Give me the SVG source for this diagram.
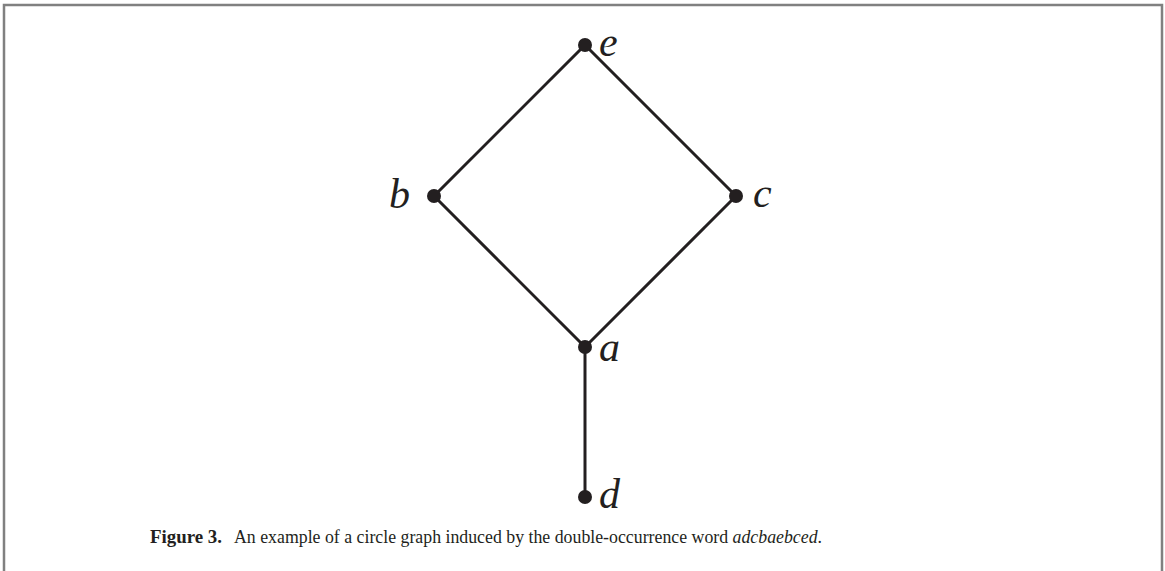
<svg xmlns="http://www.w3.org/2000/svg" width="1165" height="571" viewBox="0 0 1165 571">
<style>
.edge{stroke:#231f20;stroke-width:3;fill:none}
.dot{fill:#231f20}
.lbl{font-family:"Liberation Serif",serif;font-style:italic;font-size:42px;fill:#231f20}
.cap{font-family:"Liberation Serif",serif;font-size:18px;fill:#231f20}
</style>
<rect width="1165" height="571" fill="#fff"/>
<path d="M4,571 V5 H1162 V571" fill="none" stroke="#808080" stroke-width="2.5"/>
<g id="edges">
<line class="edge" x1="585" y1="45" x2="434" y2="196"/>
<line class="edge" x1="585" y1="45" x2="736" y2="196"/>
<line class="edge" x1="434" y1="196" x2="585" y2="347"/>
<line class="edge" x1="736" y1="196" x2="585" y2="347"/>
<line class="edge" x1="585" y1="347" x2="585" y2="497"/>
</g>
<g id="node-e"><circle class="dot" cx="585" cy="45" r="7"/><text class="lbl" x="599" y="56">e</text></g>
<g id="node-b"><circle class="dot" cx="434" cy="196" r="7"/><text class="lbl" x="389" y="208">b</text></g>
<g id="node-c"><circle class="dot" cx="736" cy="196" r="7"/><text class="lbl" x="753" y="207">c</text></g>
<g id="node-a"><circle class="dot" cx="585" cy="347" r="7"/><text class="lbl" x="599" y="361">a</text></g>
<g id="node-d"><circle class="dot" cx="585" cy="497" r="7"/><text class="lbl" x="599" y="508">d</text></g>
<g id="caption">
<text class="cap" x="150" y="543" font-weight="bold" textLength="72" lengthAdjust="spacingAndGlyphs">Figure 3.</text>
<text class="cap" x="234" y="543" textLength="588" lengthAdjust="spacingAndGlyphs">An example of a circle graph induced by the double-occurrence word <tspan font-style="italic">adcbaebced</tspan>.</text>
</g>
</svg>
